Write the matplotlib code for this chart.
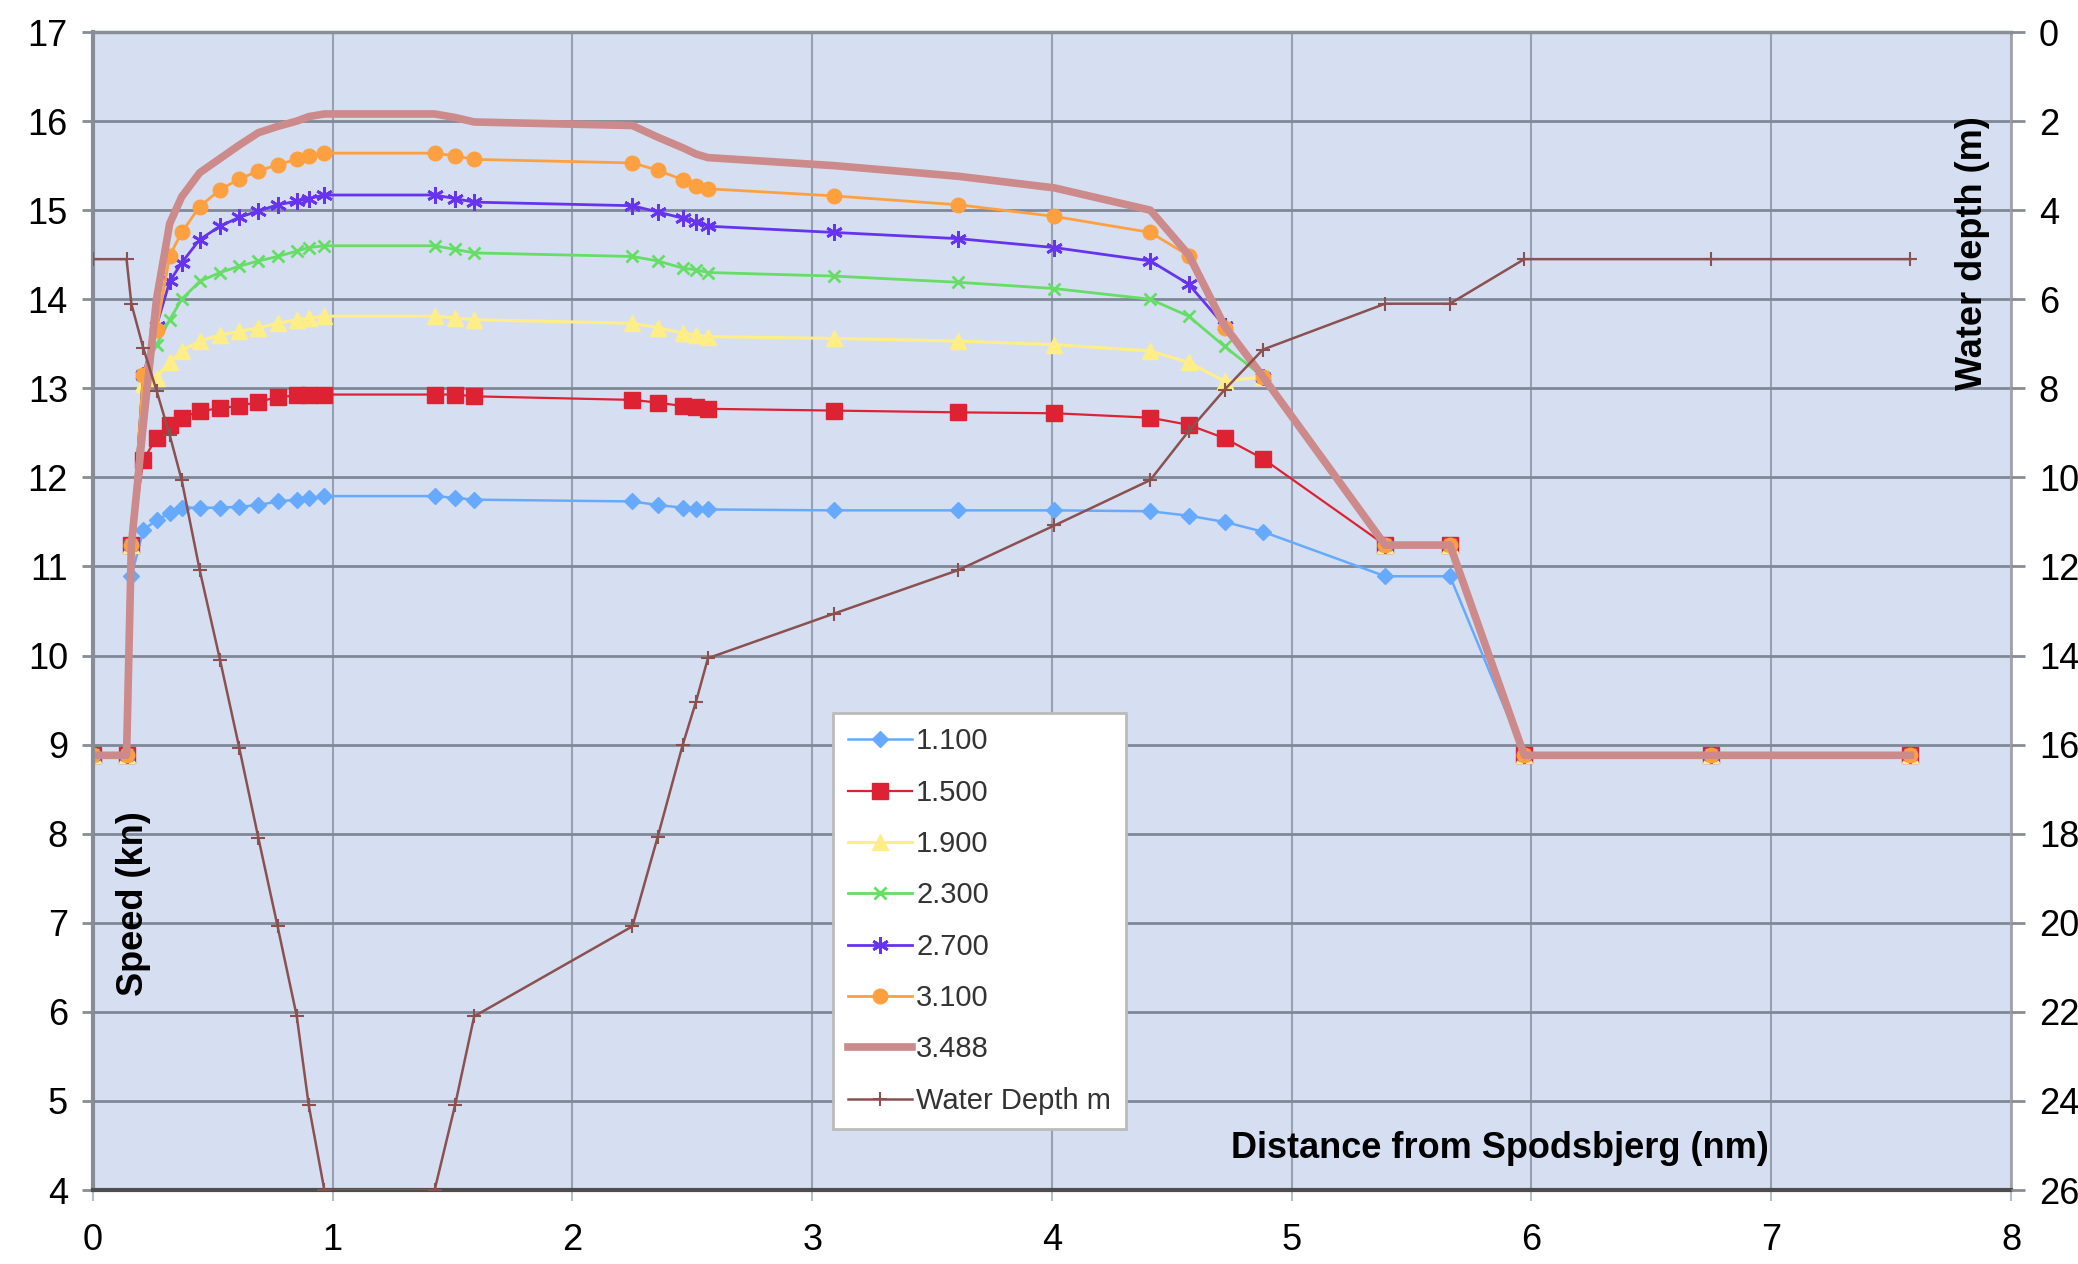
import matplotlib
matplotlib.use('Agg')
import matplotlib.pyplot as plt

plt.rcParams['font.family'] = ['Liberation Sans', 'DejaVu Sans']

# distance from Spodsbjerg (nm), shared by all series
distance = [0, 0.14, 0.16, 0.21, 0.265, 0.32, 0.37, 0.445, 0.53, 0.61, 0.69, 0.77,
            0.85, 0.90, 0.965, 1.425, 1.51, 1.59, 2.25, 2.355, 2.46, 2.515, 2.565,
            3.09, 3.61, 4.01, 4.41, 4.57, 4.72, 4.88, 5.39, 5.66, 5.97, 6.75, 7.58]

speed_1100 = [8.88, 8.88, 10.89, 11.41, 11.52, 11.60, 11.66, 11.66, 11.66, 11.67, 11.69, 11.73,
              11.75, 11.77, 11.79, 11.79, 11.77, 11.75, 11.73, 11.69, 11.66, 11.65, 11.64,
              11.63, 11.63, 11.63, 11.62, 11.57, 11.50, 11.39, 10.89, 10.89, 8.88, 8.88, 8.88]
speed_1500 = [8.88, 8.88, 11.24, 12.20, 12.44, 12.59, 12.67, 12.74, 12.78, 12.80, 12.85, 12.90,
              12.92, 12.93, 12.93, 12.93, 12.93, 12.91, 12.87, 12.84, 12.80, 12.79, 12.77,
              12.75, 12.73, 12.72, 12.67, 12.59, 12.44, 12.21, 11.24, 11.24, 8.88, 8.88, 8.88]
speed_1900 = [8.88, 8.88, 11.24, 13.05, 13.12, 13.30, 13.42, 13.53, 13.60, 13.64, 13.68, 13.73,
              13.77, 13.79, 13.81, 13.81, 13.79, 13.77, 13.73, 13.68, 13.62, 13.60, 13.58,
              13.56, 13.53, 13.49, 13.42, 13.29, 13.08, 13.13, 11.24, 11.24, 8.88, 8.88, 8.88]
speed_2300 = [8.88, 8.88, 11.24, 13.15, 13.49, 13.77, 14.00, 14.20, 14.30, 14.37, 14.43, 14.48,
              14.54, 14.58, 14.60, 14.60, 14.56, 14.52, 14.48, 14.43, 14.35, 14.33, 14.30,
              14.26, 14.19, 14.12, 14.00, 13.81, 13.47, 13.13, 11.24, 11.24, 8.88, 8.88, 8.88]
speed_2700 = [8.88, 8.88, 11.24, 13.15, 13.70, 14.20, 14.41, 14.67, 14.82, 14.92, 14.99, 15.06,
              15.10, 15.13, 15.17, 15.17, 15.13, 15.09, 15.05, 14.98, 14.91, 14.87, 14.82,
              14.75, 14.68, 14.58, 14.43, 14.17, 13.70, 13.13, 11.24, 11.24, 8.88, 8.88, 8.88]
speed_3100 = [8.88, 8.88, 11.24, 13.15, 13.66, 14.49, 14.75, 15.04, 15.23, 15.35, 15.44, 15.51,
              15.57, 15.61, 15.64, 15.64, 15.61, 15.57, 15.53, 15.45, 15.34, 15.27, 15.24,
              15.16, 15.06, 14.93, 14.75, 14.49, 13.68, 13.13, 11.24, 11.24, 8.88, 8.88, 8.88]
speed_3488 = [8.88, 8.88, 11.24, 12.60, 14.00, 14.85, 15.15, 15.42, 15.58, 15.73, 15.87, 15.94,
              16.00, 16.05, 16.08, 16.08, 16.04, 15.99, 15.95, 15.82, 15.70, 15.63, 15.59,
              15.50, 15.38, 15.25, 15.00, 14.50, 13.70, 13.13, 11.24, 11.24, 8.88, 8.88, 8.88]
depth_m = [5.1, 5.1, 6.1, 7.1, 8.05, 9.05, 10.06, 12.08, 14.1, 16.07, 18.1, 20.08,
           22.1, 24.1, 26.0, 26.0, 24.1, 22.1, 20.08, 18.08, 16.0, 15.04, 14.06,
           13.06, 12.08, 11.08, 10.06, 8.96, 8.03, 7.13, 6.1, 6.1, 5.1, 5.1, 5.1]

x_ticks = list(range(0, 9))
speed_ticks = list(range(4, 18))
depth_ticks = list(range(0, 27, 2))

fig = plt.figure(figsize=(20.78, 12.64), dpi=100)
ax = fig.add_axes([0.04475, 0.05854, 0.92300, 0.91614])
ax.set_facecolor('#D6DFF1')

ax.plot(distance, speed_1100, color='#66AAFF', lw=1.8, marker='D', ms=8, label='1.100')
ax.plot(distance, speed_1500, color='#DD2233', lw=1.6, marker='s', ms=11.5, label='1.500')
ax.plot(distance, speed_1900, color='#FFEE88', lw=2.2, marker='^', ms=11, label='1.900')
ax.plot(distance, speed_2300, color='#66DD66', lw=2.0, marker='x', ms=9, mew=2, label='2.300')
ax.plot(distance, speed_2700, color='#6633EE', lw=2.0, marker=(6, 2, 0), ms=12, mew=2, label='2.700')
ax.plot(distance, speed_3100, color='#FFA040', lw=2.0, marker='o', ms=10.5, label='3.100')
ax.plot(distance, speed_3488, color='#CC8A8A', lw=5.5, label='3.488')

ax.set_xlim(0, 8)
ax.set_ylim(4, 17)
ax.set_xticks(x_ticks)
ax.set_yticks(speed_ticks)
ax.set_axisbelow(True)
ax.grid(axis='y', color='#7F8896', lw=2)
ax.grid(axis='x', color='#98A0B0', lw=1.5)
ax.tick_params(axis='y', labelsize=26, length=8, width=2, color='#888C94', pad=10)
ax.tick_params(axis='x', labelsize=26, length=8, width=1.5, color='#B8BCC4', pad=16)

ax.spines['left'].set_color('#888C94')
ax.spines['left'].set_linewidth(3)
ax.spines['top'].set_color('#8A8E96')
ax.spines['top'].set_linewidth(2.5)
ax.spines['bottom'].set_color('#4D4D4D')
ax.spines['bottom'].set_linewidth(3)
ax.spines['right'].set_color('#A0A4AA')
ax.spines['right'].set_linewidth(2)

ax2 = ax.twinx()
ax2.plot(distance, depth_m, color='#8B5050', lw=1.8, marker='+', ms=10, mew=1.5,
         label='Water Depth m')
ax2.set_ylim(26, 0)
ax2.set_yticks(depth_ticks)
ax2.tick_params(axis='y', labelsize=26, length=10, width=2, color='#888C94', pad=10)
for s in ax2.spines.values():
    s.set_visible(False)

ax.text(0.0209, 0.247, 'Speed (kn)', transform=ax.transAxes, rotation=90,
        fontsize=26, fontweight='bold', ha='center', va='center')
ax.text(0.9797, 0.809, 'Water depth (m)', transform=ax.transAxes, rotation=90,
        fontsize=26, fontweight='bold', ha='center', va='center', zorder=10)
ax.text(0.7336, 0.036, 'Distance from Spodsbjerg (nm)', transform=ax.transAxes,
        fontsize=26, fontweight='bold', ha='center', va='center')

h1, l1 = ax.get_legend_handles_labels()
h2, l2 = ax2.get_legend_handles_labels()
leg = ax2.legend(h1 + h2, l1 + l2, loc='upper left', bbox_to_anchor=(0.3858, 0.412),
                 fontsize=21, frameon=True, fancybox=False, framealpha=1,
                 edgecolor='#BBBBBB', labelspacing=0.8, handlelength=2.2,
                 handletextpad=0.15, borderpad=0.5, borderaxespad=0)
leg.get_frame().set_linewidth(2)
for t in leg.get_texts():
    t.set_color('#333333')

fig.savefig('out.png', dpi=100)
